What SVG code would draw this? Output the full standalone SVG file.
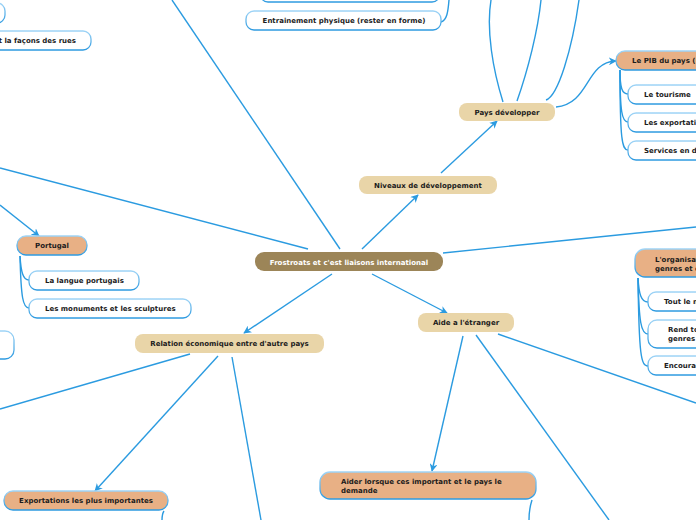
<svg xmlns="http://www.w3.org/2000/svg" width="696" height="520" viewBox="0 0 696 520">
<defs>
<linearGradient id="bst" x1="0" y1="0" x2="0" y2="1">
<stop offset="0" stop-color="#9fd4f6"/>
<stop offset="1" stop-color="#2d9ae0"/>
</linearGradient>
<marker id="ar" viewBox="0 0 10 10" refX="9" refY="5" markerWidth="8" markerHeight="8" markerUnits="userSpaceOnUse" orient="auto">
<path d="M0,0 L10,5 L0,10 L3,5 Z" fill="#2b9be0"/>
</marker>
</defs>
<style>
text{font-family:"DejaVu Sans",Verdana,sans-serif;font-weight:bold;font-size:7px;fill:#1c1c1c}
.c{stroke:#2b9be0;stroke-width:1.4;fill:none}
.tan{fill:#e9d5a8}
.sal{fill:#e8b085;stroke:url(#bst);stroke-width:1.3}
.wh{fill:#ffffff;stroke:url(#bst);stroke-width:1.3}
.ctr{fill:#9c8558}
.m{text-anchor:middle}
</style>
<rect width="696" height="520" fill="#ffffff"/>
<g id="connectors">
<line class="c" x1="340" y1="249" x2="172" y2="0"/>
<line class="c" x1="308" y1="249" x2="0" y2="168"/>
<line class="c" x1="362" y1="249" x2="418" y2="195" marker-end="url(#ar)"/>
<line class="c" x1="443" y1="253" x2="696" y2="227"/>
<line class="c" x1="332" y1="274" x2="244" y2="333" marker-end="url(#ar)"/>
<line class="c" x1="372" y1="274" x2="447" y2="313" marker-end="url(#ar)"/>
<line class="c" x1="441" y1="173" x2="497" y2="121" marker-end="url(#ar)"/>
<path class="c" d="M503,102 C493,70 486,30 491,0"/>
<path class="c" d="M517,101 C528,70 538,30 541,0"/>
<path class="c" d="M546,100 C558,96 572,50 579,0"/>
<path class="c" d="M556,107 C590,104 585,62 616,61" marker-end="url(#ar)"/>
<path class="c" d="M620,70 C620,88 622,94 628,94"/>
<path class="c" d="M620,70 C620,112 622,122 628,122"/>
<path class="c" d="M620,70 C620,140 622,150 628,150"/>
<path class="c" d="M449,0 C448,12 447,20 441,22"/>
<line class="c" x1="0" y1="205" x2="39" y2="236" marker-end="url(#ar)"/>
<path class="c" d="M20,256 C21,272 23,280 29,280"/>
<path class="c" d="M20,256 C21,298 23,308 29,308"/>
<line class="c" x1="190" y1="354" x2="0" y2="409"/>
<line class="c" x1="218" y1="356" x2="95" y2="491" marker-end="url(#ar)"/>
<line class="c" x1="232" y1="357" x2="261" y2="520"/>
<path class="c" d="M164,511 C162,514 162,517 162,520"/>
<line class="c" x1="463" y1="336" x2="432" y2="471" marker-end="url(#ar)"/>
<line class="c" x1="476" y1="335" x2="609" y2="520"/>
<line class="c" x1="498" y1="334" x2="696" y2="403"/>
<path class="c" d="M532,500 C530,506 529,513 529,520"/>
<path class="c" d="M638,278 C639,294 641,302 648,302"/>
<path class="c" d="M638,278 C639,322 641,334 648,334"/>
<path class="c" d="M638,278 C639,356 641,366 648,366"/>
</g>
<g id="n-center">
<rect class="ctr" x="255" y="252" width="188" height="19" rx="9"/>
<text class="m" x="349" y="264.5" style="fill:#ffffff">Frostroats et c'est liaisons international</text>
</g>
<g id="n-niveaux">
<rect class="tan" x="359" y="176" width="138" height="18" rx="8"/>
<text class="m" x="428" y="187.5">Niveaux de développement</text>
</g>
<g id="n-pays">
<rect class="tan" x="459" y="103" width="96" height="18" rx="8"/>
<text class="m" x="507" y="114.5">Pays développer</text>
</g>
<g id="n-pib">
<rect class="sal" x="616" y="51" width="100" height="19" rx="9"/>
<text x="632" y="63">Le PIB du pays (</text>
</g>
<g id="n-tourisme">
<rect class="wh" x="628" y="85" width="90" height="19" rx="8"/>
<text x="644" y="97">Le tourisme</text>
</g>
<g id="n-export">
<rect class="wh" x="628" y="113" width="90" height="19" rx="8"/>
<text x="644" y="125">Les exportati</text>
</g>
<g id="n-services">
<rect class="wh" x="628" y="141" width="90" height="19" rx="8"/>
<text x="644" y="153">Services en d</text>
</g>
<g id="n-top">
<rect class="wh" x="260" y="-17" width="180" height="19" rx="8"/>
</g>
<g id="n-entrainement">
<rect class="wh" x="246" y="11" width="195" height="19" rx="8"/>
<text class="m" x="344" y="23">Entrainement physique (rester en forme)</text>
</g>
<g id="n-topleft">
<rect class="wh" x="-30" y="3" width="35" height="20" rx="8"/>
</g>
<g id="n-rues">
<rect class="wh" x="-40" y="31" width="131" height="19" rx="8"/>
<text x="76" y="43" style="text-anchor:end">t la façons des rues</text>
</g>
<g id="n-portugal">
<rect class="sal" x="17" y="236" width="70" height="19" rx="9"/>
<text class="m" x="52" y="248">Portugal</text>
</g>
<g id="n-langue">
<rect class="wh" x="29" y="271" width="110" height="19" rx="8"/>
<text x="45" y="283">La langue portugais</text>
</g>
<g id="n-monuments">
<rect class="wh" x="29" y="299" width="162" height="19" rx="8"/>
<text x="45" y="311">Les monuments et les sculptures</text>
</g>
<g id="n-left">
<rect class="wh" x="-30" y="331" width="44" height="28" rx="9"/>
</g>
<g id="n-relation">
<rect class="tan" x="135" y="334" width="189" height="19" rx="8"/>
<text class="m" x="229.5" y="346">Relation économique entre d'autre pays</text>
</g>
<g id="n-exportations">
<rect class="sal" x="4" y="491" width="164" height="19" rx="9"/>
<text class="m" x="86" y="503">Exportations les plus importantes</text>
</g>
<g id="n-aide">
<rect class="tan" x="418" y="313" width="96" height="19" rx="8"/>
<text class="m" x="466" y="325">Aide a l'étranger</text>
</g>
<g id="n-aider">
<rect class="sal" x="320" y="472" width="216" height="27" rx="10"/>
<text x="341" y="484">Aider lorsque ces important et le pays le</text>
<text x="341" y="493">demande</text>
</g>
<g id="n-organisation">
<rect class="sal" x="635" y="249" width="90" height="28" rx="10"/>
<text x="655" y="262">L'organisation</text>
<text x="655" y="271">genres et de</text>
</g>
<g id="n-tout">
<rect class="wh" x="648" y="292" width="80" height="19" rx="8"/>
<text x="664" y="304">Tout le m</text>
</g>
<g id="n-rend">
<rect class="wh" x="648" y="320" width="80" height="28" rx="9"/>
<text x="668" y="332">Rend to</text>
<text x="668" y="341">genres</text>
</g>
<g id="n-encourag">
<rect class="wh" x="648" y="356" width="80" height="19" rx="8"/>
<text x="664" y="368">Encourag</text>
</g>
</svg>
